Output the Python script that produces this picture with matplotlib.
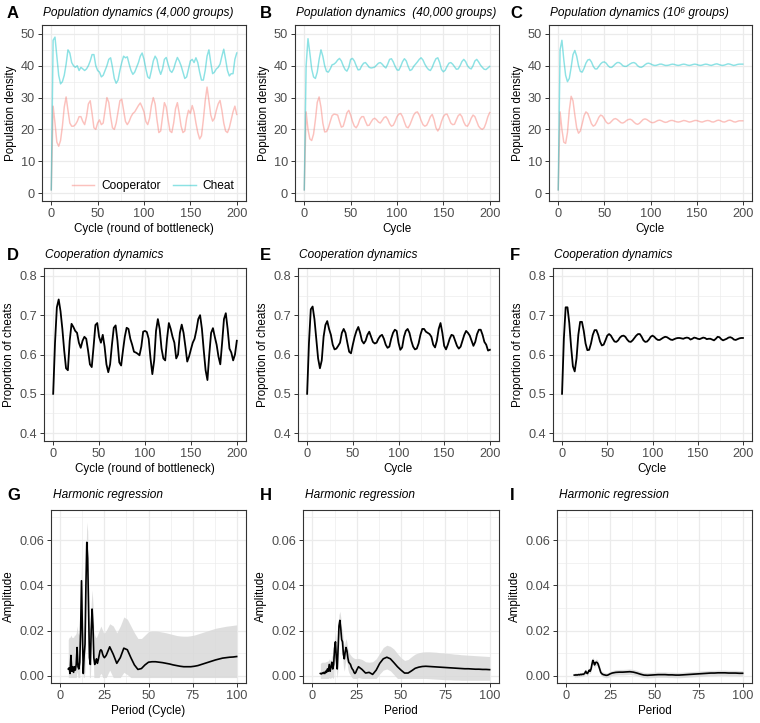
import numpy as np
import matplotlib
matplotlib.use("Agg")
import matplotlib.pyplot as plt

plt.rcParams['font.family'] = ['Liberation Sans', 'DejaVu Sans']

# ---- data (every 2nd cycle, 0..200) ----
cycle = np.arange(0, 201, 2)

cheat_4k = [1, 48, 49, 43, 37, 34.3, 35, 37, 40.5, 45,
            44, 41, 40, 39.5, 40, 38.5, 39.5, 39, 38.5, 39,
            40, 41.5, 43.5, 43.5, 40, 38.5, 38, 36.5, 37, 38.5,
            40, 42, 42.5, 39.5, 36, 34.5, 35.5, 38.5, 41, 43,
            42.5, 42.8, 40.5, 38.5, 37.3, 38, 39.5, 41, 43, 44,
            42, 39, 36.5, 36, 38.5, 41.5, 43, 42, 39, 37.3,
            39, 42, 42.6, 40.5, 38.5, 37.9, 39, 41, 42.6, 41.5,
            40, 38, 36, 36.5, 39, 41.5, 42, 41, 42.5, 41,
            38, 35.5, 35.5, 38.5, 43, 45, 41, 37.5, 38, 39,
            39.5, 40.5, 43, 45.2, 42, 38.5, 36.8, 37.5, 37.5, 42,
            44]
coop_4k = [1, 27.3, 22, 16, 14.7, 16.5, 21, 27, 30.2, 26,
           22, 21, 21, 21.5, 22.5, 24, 24, 22.5, 21.5, 24,
           28, 29, 25, 20.5, 20, 22, 23, 21.5, 22, 26,
           30, 28.5, 24, 20.5, 20, 22, 25.5, 29, 29.5, 26,
           22.5, 21.5, 22.5, 24, 25, 25.5, 26.5, 27.5, 28.3, 27,
           25.5, 22.5, 21.5, 23.5, 27.5, 30, 28, 23, 19, 19.5,
           24, 28.4, 27, 23, 19.5, 19, 22, 26.5, 28.4, 25,
           21, 19, 19.5, 23.5, 26, 25, 27.5, 25.5, 22, 19,
           17, 18, 23, 29, 33.3, 29, 24.5, 22.6, 23.5, 26,
           28, 29.1, 26, 22, 19.5, 19, 20.5, 23, 25.5, 27.3,
           24.7]

cheat_40k = [1, 40, 48.5, 44, 39, 36.5, 36, 38, 42, 45,
             43, 40, 38.2, 38, 39, 40.3, 40.5, 41, 41.8, 42.3,
             41.5, 40, 38.8, 38.3, 39.5, 42, 42.3, 41.5, 40, 38.7,
             38.8, 40, 40.8, 41, 40.3, 39.5, 39.3, 39.4, 39.6, 40.2,
             40.8, 41, 40.5, 39.8, 39.3, 40.5, 42, 42.2, 41.2, 39.8,
             38.7, 38.6, 39.8, 41.3, 42.2, 41.5, 39.8, 38.5, 38.8, 39.8,
             40.5, 41.2, 42, 42.5, 41.8, 40.5, 39.5, 38.8, 38.5, 39.5,
             41, 42.2, 42.5, 41, 38.8, 38.1, 38.6, 39.8, 40.8, 41,
             40.5, 39.7, 38.9, 39, 40, 41.3, 42, 41.3, 40, 39.3,
             39, 40, 41.5, 42, 41.2, 40.2, 39.5, 38.9, 38.8, 39.3,
             39.8]
coop_40k = [1, 25.5, 20, 17, 16.5, 18.5, 23, 28.5, 30.2, 27,
            22, 19.2, 19.3, 20.5, 22.5, 24.3, 24.8, 24.7, 24.5, 22.5,
            20.7, 21, 23, 25.2, 26, 24.5, 22.5, 21, 20.5, 21.5,
            23.2, 24, 24, 22.5, 21.2, 21.3, 22.3, 23.2, 23.5, 23,
            22.3, 22, 22.8, 23.7, 24, 23.2, 21.8, 21, 21.3, 22.5,
            24, 24.8, 25, 24, 22.3, 20.8, 20.5, 21.5, 23, 24.5,
            25.3, 25.5, 24.5, 22.8, 21.5, 21, 21.3, 22.5, 24, 24.7,
            23, 20.5, 19.5, 20.5, 22.5, 24, 24.7, 24.8, 23.5, 22,
            21.5, 21.6, 23, 24.3, 24.8, 24, 22.3, 21.2, 21, 22,
            23.5, 24.5, 24, 22.5, 21, 20.3, 20, 20.5, 22, 24,
            25.3]

cheat_1m = [1, 45, 48, 42, 37, 35, 36, 39.5, 43.5, 44.8,
            43, 40, 38.2, 38, 39.2, 40.8, 41.8, 42, 41.2, 39.8,
            39, 39, 39.8, 40.6, 41.1, 41.2, 40.8, 40, 39.5, 39.5,
            40, 40.6, 41, 41, 40.6, 40, 39.8, 39.8, 40.2, 40.6,
            40.9, 41, 40.7, 40, 39.6, 39.5, 39.8, 40.3, 40.7, 40.8,
            40.6, 40.3, 40.1, 40.1, 40.3, 40.5, 40.5, 40.3, 40.1, 40.1,
            40.2, 40.4, 40.5, 40.4, 40.2, 40.1, 40.2, 40.4, 40.5, 40.4,
            40.2, 40.1, 40.2, 40.4, 40.5, 40.4, 40.2, 40.1, 40.2, 40.4,
            40.5, 40.4, 40.2, 40.1, 40.3, 40.5, 40.6, 40.4, 40.2, 40.1,
            40.2, 40.4, 40.6, 40.5, 40.3, 40.1, 40.2, 40.4, 40.5, 40.5,
            40.5]
coop_1m = [1, 25.5, 20, 16, 15.6, 19, 26, 30.4, 29, 24.5,
           20.5, 18.8, 19.5, 21.8, 24.3, 25.5, 25, 23.5, 21.8, 21,
           21.4, 22.5, 23.8, 24.5, 24.2, 23.3, 22.3, 21.8, 22, 22.6,
           23.2, 23.4, 23.1, 22.6, 22.1, 22, 22.3, 22.8, 23.1, 23.2,
           22.9, 22.3, 21.8, 21.6, 21.9, 22.5, 23.1, 23.3, 23.1, 22.7,
           22.3, 22.1, 22.2, 22.5, 22.8, 22.9, 22.7, 22.4, 22.2, 22.3,
           22.6, 22.8, 22.8, 22.6, 22.4, 22.3, 22.4, 22.6, 22.8, 22.7,
           22.5, 22.3, 22.4, 22.6, 22.8, 22.8, 22.6, 22.4, 22.3, 22.5,
           22.7, 22.8, 22.7, 22.4, 22.3, 22.5, 22.8, 22.9, 22.7, 22.4,
           22.3, 22.5, 22.8, 22.9, 22.7, 22.4, 22.3, 22.5, 22.7, 22.7,
           22.7]

prop_4k = [0.50, 0.63, 0.72, 0.74, 0.71, 0.665, 0.61, 0.565, 0.56, 0.635,
           0.678, 0.67, 0.66, 0.655, 0.63, 0.617, 0.635, 0.645, 0.64, 0.61,
           0.575, 0.568, 0.62, 0.675, 0.68, 0.645, 0.63, 0.65, 0.62, 0.575,
           0.555, 0.575, 0.625, 0.668, 0.674, 0.635, 0.58, 0.572, 0.61, 0.645,
           0.668, 0.665, 0.64, 0.625, 0.607, 0.605, 0.602, 0.598, 0.62, 0.658,
           0.66, 0.657, 0.64, 0.59, 0.55, 0.585, 0.66, 0.69, 0.665, 0.615,
           0.59, 0.585, 0.64, 0.68, 0.665, 0.645, 0.63, 0.59, 0.6, 0.655,
           0.676, 0.655, 0.62, 0.582, 0.595, 0.613, 0.63, 0.64, 0.662, 0.69,
           0.7, 0.665, 0.61, 0.56, 0.535, 0.6, 0.655, 0.667, 0.645, 0.625,
           0.595, 0.575, 0.63, 0.69, 0.705, 0.665, 0.615, 0.605, 0.585, 0.6,
           0.635]
prop_40k = [0.5, 0.63, 0.715, 0.722, 0.69, 0.64, 0.59, 0.565, 0.585, 0.645,
            0.675, 0.685, 0.665, 0.65, 0.625, 0.613, 0.615, 0.622, 0.63, 0.655,
            0.665, 0.655, 0.63, 0.607, 0.603, 0.625, 0.645, 0.66, 0.67, 0.655,
            0.635, 0.628, 0.635, 0.65, 0.658, 0.645, 0.632, 0.628, 0.63, 0.64,
            0.647, 0.65, 0.64, 0.625, 0.617, 0.62, 0.64, 0.655, 0.663, 0.66,
            0.63, 0.612, 0.618, 0.645, 0.66, 0.665, 0.655, 0.635, 0.62, 0.613,
            0.615, 0.628, 0.65, 0.665, 0.665, 0.658, 0.655, 0.652, 0.645, 0.625,
            0.618, 0.635, 0.665, 0.68, 0.655, 0.622, 0.613, 0.625, 0.64, 0.65,
            0.648, 0.635, 0.622, 0.615, 0.62, 0.635, 0.65, 0.66, 0.655, 0.648,
            0.635, 0.622, 0.632, 0.652, 0.663, 0.663, 0.65, 0.632, 0.625, 0.61,
            0.612]
prop_1m = [0.5, 0.64, 0.72, 0.72, 0.68, 0.62, 0.57, 0.557, 0.59, 0.65,
           0.683, 0.683, 0.66, 0.628, 0.611, 0.612, 0.628, 0.65, 0.662, 0.662,
           0.65, 0.633, 0.623, 0.625, 0.636, 0.648, 0.652, 0.648, 0.64, 0.633,
           0.632, 0.636, 0.643, 0.647, 0.648, 0.645, 0.638, 0.633, 0.632, 0.636,
           0.642, 0.648, 0.652, 0.652, 0.645, 0.636, 0.632, 0.633, 0.638, 0.645,
           0.648, 0.645, 0.64, 0.637, 0.637, 0.64, 0.643, 0.645, 0.644, 0.641,
           0.638, 0.637, 0.639, 0.641, 0.642, 0.642, 0.641, 0.64, 0.642, 0.643,
           0.642, 0.638, 0.64, 0.643, 0.642, 0.64, 0.639, 0.641, 0.643, 0.642,
           0.639, 0.64, 0.64, 0.638, 0.636, 0.64, 0.645, 0.644, 0.639, 0.636,
           0.638, 0.64, 0.643, 0.644, 0.642, 0.638, 0.637, 0.639, 0.641, 0.642,
           0.642]

# ---- harmonic regression: period grid, amplitude and confidence band ----
period = np.concatenate([np.arange(4.5, 25.01, 0.5), np.arange(26, 101, 2)])

amp_4k = [0.003, 0.0035, 0.001, 0.009, 0.002, 0.004, 0.0015, 0.004, 0.0025, 0.005,
          0.0125, 0.004, 0.003, 0.006, 0.02, 0.042, 0.02, 0.001, 0.009, 0.014,
          0.04, 0.059, 0.052, 0.03, 0.008, 0.005, 0.02, 0.0295, 0.022, 0.008,
          0.005, 0.006, 0.0075, 0.0055, 0.007, 0.009, 0.011, 0.0115, 0.011, 0.0095,
          0.0085, 0.008,
          0.009, 0.0128, 0.0095, 0.0055, 0.008, 0.0122, 0.0115, 0.008, 0.0048, 0.0028,
          0.0032, 0.0048, 0.006, 0.0062, 0.0062, 0.006, 0.0058, 0.0055, 0.0052, 0.0048,
          0.0045, 0.0042, 0.004, 0.004, 0.004, 0.0042, 0.0045, 0.005, 0.0055, 0.006,
          0.0065, 0.007, 0.0074, 0.0078, 0.008, 0.0082, 0.0083, 0.0085]
hi_4k = [0.016, 0.017, 0.017, 0.018, 0.017, 0.017, 0.017, 0.018, 0.018, 0.019,
         0.022, 0.019, 0.018, 0.02, 0.032, 0.05, 0.034, 0.018, 0.022, 0.028,
         0.052, 0.068, 0.064, 0.044, 0.022, 0.02, 0.032, 0.038, 0.032, 0.02,
         0.018, 0.017, 0.017, 0.018, 0.019, 0.02, 0.021, 0.022, 0.021, 0.02,
         0.019, 0.019,
         0.02, 0.023, 0.022, 0.019, 0.022, 0.026, 0.025, 0.022, 0.019, 0.0165,
         0.0165, 0.018, 0.0195, 0.0198, 0.0198, 0.0196, 0.0193, 0.019, 0.0186, 0.0182,
         0.0178, 0.0176, 0.0175, 0.0175, 0.0177, 0.018, 0.0185, 0.019, 0.0195, 0.02,
         0.0205, 0.021, 0.0213, 0.0216, 0.0219, 0.0221, 0.0223, 0.0225]
lo_4k = [-0.0008, -0.0008, -0.0008, -0.0008, -0.0008, -0.0008, -0.0008, -0.0008, -0.0008, -0.0008,
         0.002, -0.0008, -0.0008, -0.0008, 0.008, 0.032, 0.008, -0.0008, -0.0008, 0.002,
         0.028, 0.048, 0.04, 0.018, -0.0008, -0.0008, 0.008, 0.02, 0.012, -0.0008,
         -0.0008, -0.0008, -0.0008, -0.0008, -0.0008, -0.0008, 0.0005, 0.001, 0.0005, -0.0008,
         -0.0008, -0.0008,
         -0.0008, 0.0025, -0.0008, -0.0008, -0.0008, 0.0015, 0.0005, -0.0008, -0.0008, -0.0008,
         -0.0008, -0.0008, -0.0008, -0.0008, -0.0008, -0.0008, -0.0008, -0.0008, -0.0008, -0.0008,
         -0.0008, -0.0008, -0.0008, -0.0008, -0.0008, -0.0008, -0.0008, -0.0008, -0.0008, -0.0008,
         -0.0008, -0.0008, -0.0008, -0.0008, -0.0008, -0.0008, -0.0008, -0.0008]

amp_40k = [0.001, 0.0008, 0.0012, 0.001, 0.0015, 0.001, 0.002, 0.0015, 0.003, 0.002,
           0.005, 0.002, 0.004, 0.006, 0.003, 0.005, 0.012, 0.015, 0.008, 0.003,
           0.012, 0.022, 0.0245, 0.021, 0.016, 0.015, 0.0095, 0.0075, 0.0105, 0.0125,
           0.011, 0.008, 0.006, 0.0055, 0.005, 0.0038, 0.003, 0.0025, 0.0015, 0.001,
           0.0015, 0.0025,
           0.004, 0.0028, 0.0012, 0.0015, 0.0006, 0.0025, 0.0055, 0.0075, 0.0082, 0.0075,
           0.0058, 0.004, 0.0025, 0.0012, 0.0012, 0.0022, 0.0033, 0.0038, 0.0041, 0.0042,
           0.0041, 0.004, 0.0039, 0.0038, 0.0037, 0.0036, 0.0035, 0.0034, 0.0033, 0.0032,
           0.0031, 0.0031, 0.003, 0.0029, 0.0029, 0.0028, 0.0028, 0.0027]
hi_40k = [0.0055, 0.0058, 0.006, 0.006, 0.006, 0.006, 0.0062, 0.0063, 0.0065, 0.0066,
          0.0075, 0.0068, 0.007, 0.009, 0.0085, 0.01, 0.016, 0.019, 0.015, 0.012,
          0.02, 0.027, 0.0285, 0.026, 0.021, 0.02, 0.015, 0.013, 0.015, 0.0165,
          0.0145, 0.012, 0.0105, 0.0098, 0.0092, 0.0087, 0.0083, 0.008, 0.0078, 0.0076,
          0.0076, 0.0076,
          0.0077, 0.0072, 0.0062, 0.006, 0.0062, 0.0075, 0.01, 0.0125, 0.0135, 0.013,
          0.0118, 0.0098, 0.008, 0.0068, 0.0072, 0.0085, 0.0096, 0.0102, 0.0105, 0.0106,
          0.0106, 0.0105, 0.0104, 0.0102, 0.0101, 0.0099, 0.0098, 0.0096, 0.0095, 0.0093,
          0.0092, 0.0091, 0.009, 0.0089, 0.0088, 0.0087, 0.0086, 0.0085]
lo_40k = [-0.0012, -0.0012, -0.0012, -0.0012, -0.0012, -0.0012, -0.0012, -0.0012, -0.0012, -0.0012,
          -0.0008, -0.0012, -0.001, -0.0005, -0.0012, -0.0008, 0.006, 0.01, 0.002, -0.0012,
          0.004, 0.016, 0.02, 0.016, 0.011, 0.009, 0.004, 0.002, 0.005, 0.0075,
          0.006, 0.003, 0.0015, 0.0008, 0.0003, -0.0005, -0.001, -0.0012, -0.0012, -0.0012,
          -0.0012, -0.0012,
          -0.0008, -0.0012, -0.0012, -0.0012, -0.0012, -0.0012, 0.0008, 0.0025, 0.003, 0.0022,
          0.0005, -0.0012, -0.0012, -0.0012, -0.0012, -0.0012, -0.0012, -0.0012, -0.0012, -0.0012,
          -0.0013, -0.0014, -0.0015, -0.0016, -0.0017, -0.0018, -0.0018, -0.0019, -0.0019, -0.002,
          -0.002, -0.002, -0.002, -0.002, -0.002, -0.002, -0.002, -0.002]

amp_1m = [0.0003, 0.0003, 0.0004, 0.0003, 0.0004, 0.0005, 0.0004, 0.0006, 0.0005, 0.0007,
          0.0006, 0.0008, 0.0012, 0.002, 0.0012, 0.001, 0.0018, 0.0025, 0.002, 0.003,
          0.005, 0.0068, 0.006, 0.0048, 0.0058, 0.006, 0.0058, 0.0052, 0.004, 0.0028,
          0.0015, 0.001, 0.0007, 0.0005, 0.0004, 0.0003, 0.0002, 0.0002, 0.0003, 0.0005,
          0.0007, 0.0009,
          0.0012, 0.0015, 0.0016, 0.0016, 0.0017, 0.0018, 0.0016, 0.0012, 0.0007, 0.0003,
          0.0002, 0.0003, 0.0004, 0.0005, 0.0005, 0.0005, 0.0004, 0.0004, 0.0003, 0.0003,
          0.0004, 0.0005, 0.0006, 0.0007, 0.0008, 0.0009, 0.001, 0.0011, 0.0012, 0.0012,
          0.0013, 0.0013, 0.0013, 0.0012, 0.0012, 0.0012, 0.0011, 0.0011]
hi_1m = [0.0012, 0.0012, 0.0013, 0.0012, 0.0013, 0.0014, 0.0013, 0.0015, 0.0014, 0.0016,
         0.0015, 0.0017, 0.0021, 0.003, 0.0022, 0.002, 0.0028, 0.0036, 0.0031, 0.0042,
         0.0064, 0.0082, 0.0075, 0.0062, 0.0072, 0.0074, 0.0072, 0.0066, 0.0054, 0.0041,
         0.0027, 0.0021, 0.0018, 0.0016, 0.0015, 0.0014, 0.0013, 0.0013, 0.0014, 0.0016,
         0.0018, 0.002,
         0.0023, 0.0027, 0.0028, 0.0028, 0.0029, 0.003, 0.0028, 0.0024, 0.0019, 0.0015,
         0.0014, 0.0015, 0.0016, 0.0017, 0.0017, 0.0017, 0.0016, 0.0016, 0.0015, 0.0015,
         0.0016, 0.0017, 0.0018, 0.0019, 0.002, 0.0021, 0.0022, 0.0023, 0.0024, 0.0024,
         0.0025, 0.0025, 0.0025, 0.0024, 0.0024, 0.0024, 0.0023, 0.0023]
lo_1m = [-0.0006, -0.0006, -0.0005, -0.0006, -0.0005, -0.0004, -0.0005, -0.0003, -0.0004, -0.0002,
         -0.0003, -0.0001, 0.0003, 0.001, 0.0002, 0.0, 0.0008, 0.0014, 0.0009, 0.0018,
         0.0036, 0.0054, 0.0045, 0.0034, 0.0044, 0.0046, 0.0044, 0.0038, 0.0026, 0.0015,
         0.0003, -0.0001, -0.0004, -0.0006, -0.0007, -0.0008, -0.0009, -0.0009, -0.0008, -0.0006,
         -0.0004, -0.0002,
         0.0001, 0.0003, 0.0004, 0.0004, 0.0005, 0.0006, 0.0004, 0.0, -0.0005, -0.0009,
         -0.001, -0.0009, -0.0008, -0.0007, -0.0007, -0.0007, -0.0008, -0.0008, -0.0009, -0.0009,
         -0.0008, -0.0007, -0.0006, -0.0005, -0.0004, -0.0003, -0.0002, -0.0001, 0.0, 0.0,
         0.0001, 0.0001, 0.0001, 0.0, 0.0, 0.0, -0.0001, -0.0001]

titles_pop = ["Population dynamics (4,000 groups)",
              "Population dynamics  (40,000 groups)",
              "Population dynamics (10\u2076 groups)"]
letters = ["A", "B", "C", "D", "E", "F", "G", "H", "I"]

for s in [cheat_4k, coop_4k, cheat_40k, coop_40k, cheat_1m, coop_1m, prop_4k, prop_40k, prop_1m]:
    assert len(s) == len(cycle)
for s in [amp_4k, hi_4k, lo_4k, amp_40k, hi_40k, lo_40k, amp_1m, hi_1m, lo_1m]:
    assert len(s) == len(period)

COOP = "#F8766D"
CHEAT = "#00BFC4"

W, H = 760, 723
fig = plt.figure(figsize=(W / 100, H / 100), dpi=100)


def box(l, t, r, b):
    return [l / W, 1 - b / H, (r - l) / W, (b - t) / H]


def theme(ax, xmaj, xmin, ymaj, ymin, xlim, ylim):
    ax.set_xlim(*xlim)
    ax.set_ylim(*ylim)
    ax.set_xticks(xmaj)
    ax.set_xticks(xmin, minor=True)
    ax.set_yticks(ymaj)
    ax.set_yticks(ymin, minor=True)
    ax.grid(which="major", color="#EBEBEB", lw=0.9)
    ax.grid(which="minor", color="#EBEBEB", lw=0.45)
    ax.set_axisbelow(True)
    ax.tick_params(which="minor", length=0)
    ax.tick_params(which="major", length=3, width=0.7, color="#333333",
                   labelsize=9.2, labelcolor="#4D4D4D", pad=2)
    for sp in ax.spines.values():
        sp.set_color("#333333")
        sp.set_linewidth(0.8)


def header(letter, title, letter_x, title_x, y):
    fig.text(letter_x / W, 1 - y / H, letter, fontsize=12, fontweight="bold",
             ha="left", va="center")
    fig.text(title_x / W, 1 - y / H, title, fontsize=8.6, style="italic",
             ha="left", va="center")


# layout in pixels (left, right) per column and (top, bottom) per row
cols_top = [(42, 246), (295, 499), (549, 752)]
cols_mid = [(44, 246), (298, 499), (553, 752)]
cols_bot = [(51, 246), (303, 499), (557, 752)]
letter_x = [7, 260, 510]

# ---- row 1: population dynamics ----
pop = [(coop_4k, cheat_4k), (coop_40k, cheat_40k), (coop_1m, cheat_1m)]
for i, (coop, cheat) in enumerate(pop):
    l, r = cols_top[i]
    ax = fig.add_axes(box(l, 25, r, 201))
    theme(ax, [0, 50, 100, 150, 200], [25, 75, 125, 175],
          [0, 10, 20, 30, 40, 50], [5, 15, 25, 35, 45], (-10, 210), (-2.5, 52.8))
    h1, = ax.plot(cycle, coop, color=COOP, alpha=0.45, lw=1.05, label="Cooperator")
    h2, = ax.plot(cycle, cheat, color=CHEAT, alpha=0.45, lw=1.05, label="Cheat")
    ax.set_ylabel("Population density", fontsize=8.4, labelpad=3)
    ax.set_xlabel("Cycle (round of bottleneck)" if i == 0 else "Cycle",
                  fontsize=8.4, labelpad=2)
    header(letters[i], titles_pop[i], letter_x[i], l + 1, 13)
    if i == 0:
        ax.legend(handles=[h1, h2], loc="center", bbox_to_anchor=(0.545, 0.085),
                  ncol=2, frameon=False, fontsize=8.6, handlelength=1.9,
                  columnspacing=1.0, handletextpad=0.6)

# ---- row 2: cooperation dynamics ----
props = [prop_4k, prop_40k, prop_1m]
for i, prop in enumerate(props):
    l, r = cols_mid[i]
    ax = fig.add_axes(box(l, 268, r, 441))
    theme(ax, [0, 50, 100, 150, 200], [25, 75, 125, 175],
          [0.4, 0.5, 0.6, 0.7, 0.8], [0.45, 0.55, 0.65, 0.75], (-10, 210), (0.38, 0.82))
    ax.set_yticklabels(["0.4", "0.5", "0.6", "0.7", "0.8"])
    ax.plot(cycle, prop, color="black", lw=1.3)
    ax.set_ylabel("Proportion of cheats", fontsize=8.4, labelpad=3)
    ax.set_xlabel("Cycle (round of bottleneck)" if i == 0 else "Cycle",
                  fontsize=8.4, labelpad=2)
    header(letters[3 + i], "Cooperation dynamics", letter_x[i], l + 1, 255)

# ---- row 3: harmonic regression ----
harm = [(amp_4k, lo_4k, hi_4k), (amp_40k, lo_40k, hi_40k), (amp_1m, lo_1m, hi_1m)]
for i, (amp, lo, hi) in enumerate(harm):
    l, r = cols_bot[i]
    ax = fig.add_axes(box(l, 510, r, 683))
    theme(ax, [0, 25, 50, 75, 100], [12.5, 37.5, 62.5, 87.5],
          [0, 0.02, 0.04, 0.06], [0.01, 0.03, 0.05, 0.07], (-5.3, 105.3), (-0.0032, 0.0733))
    ax.set_yticklabels(["0.00", "0.02", "0.04", "0.06"])
    ax.fill_between(period, lo, hi, color="#D9D9D9", alpha=0.85, lw=0)
    ax.plot(period, amp, color="black", lw=1.2)
    ax.set_ylabel("Amplitude", fontsize=8.4, labelpad=3)
    ax.set_xlabel("Period (Cycle)" if i == 0 else "Period", fontsize=8.4, labelpad=2)
    header(letters[6 + i], "Harmonic regression", letter_x[i], l + 2, 495)

fig.savefig("out.png", dpi=100)
